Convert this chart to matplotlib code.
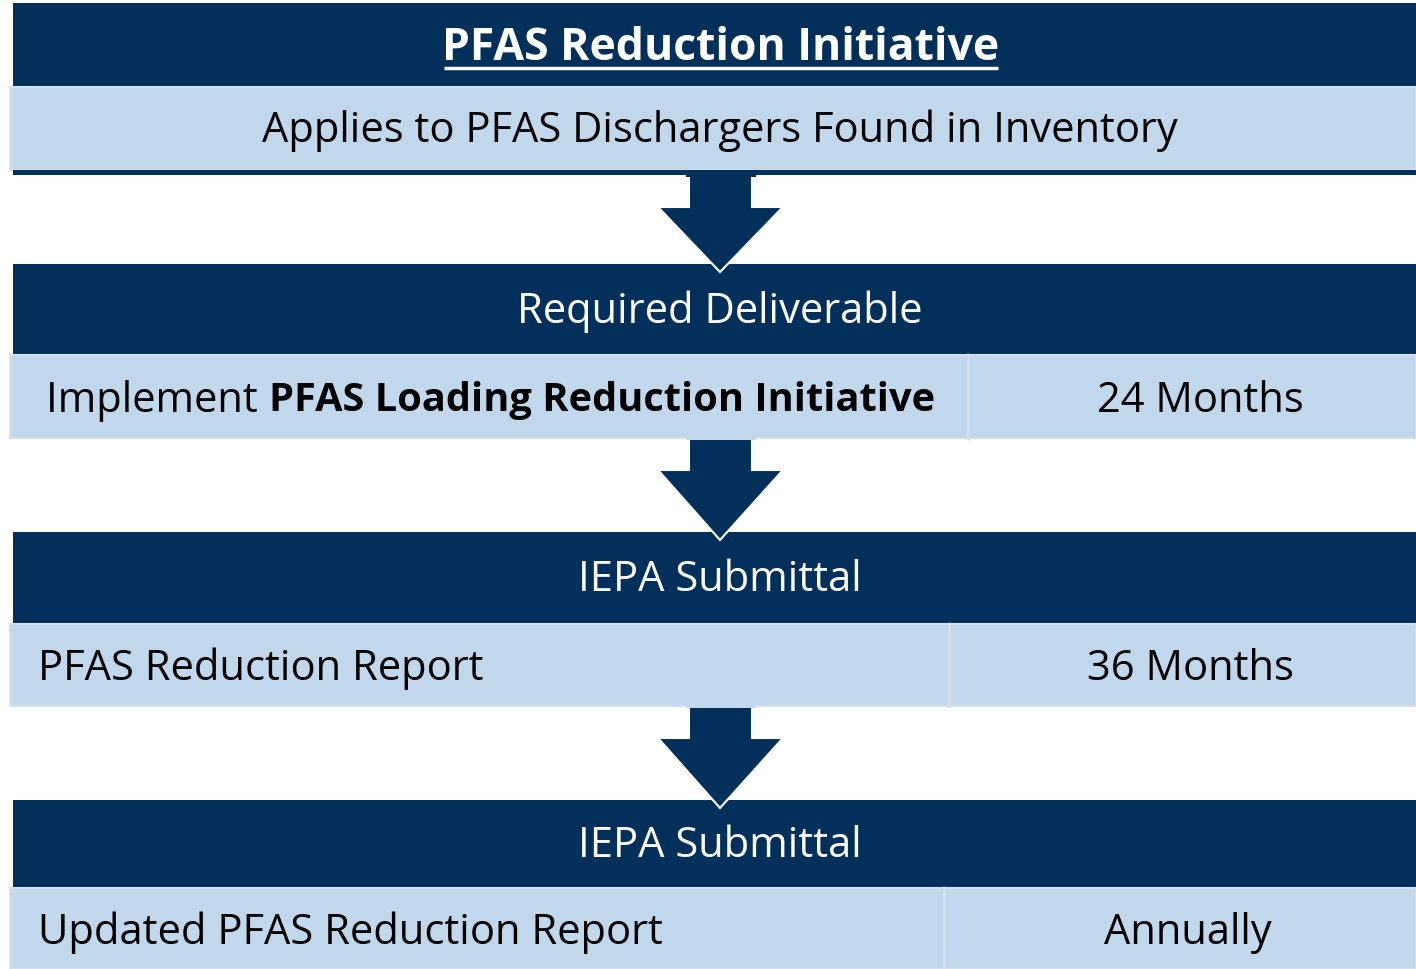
import matplotlib
matplotlib.use("Agg")
import matplotlib.pyplot as plt
from matplotlib.patches import Rectangle, Polygon

plt.rcParams['font.family'] = ['Open Sans', 'DejaVu Sans']

DARK = '#02305a'
LIGHT = '#c1d8ec'

# block texts
titles = ['PFAS Reduction Initiative', 'Required Deliverable', 'IEPA Submittal', 'IEPA Submittal']
left_texts = ['Applies to PFAS Dischargers Found in Inventory', 'Implement ', 'PFAS Reduction Report',
              'Updated PFAS Reduction Report']
bold_parts = ['', 'PFAS Loading Reduction Initiative', '', '']
right_texts = ['', '24 Months', '36 Months', 'Annually']

# layout in pixel coordinates (top, header bottom, row bottom, split x)
header_top = [3, 264, 532, 800]
header_bot = [87, 355, 624, 888]
row_bot = [170, 438, 706, 969]
split_x = [None, 968, 949, 944]
left_x = [None, 46, 38, 38]
right_cx = [None, 1200, 1190, 1188]

W, H = 1416, 969
fig = plt.figure(figsize=(W / 100, H / 100), dpi=100)
ax = fig.add_axes([0, 0, 1, 1])
ax.set_xlim(0, W)
ax.set_ylim(H, 0)
ax.axis('off')

fs = 30
for i in range(4):
    ax.add_patch(Rectangle((13, header_top[i]), W - 13, header_bot[i] - header_top[i],
                           facecolor=DARK, edgecolor='none', zorder=1))
    ax.add_patch(Rectangle((10, header_bot[i]), W - 10, row_bot[i] - header_bot[i],
                           facecolor=LIGHT, edgecolor='#d3dfec', lw=1.5, zorder=2))
    hy = (header_top[i] + header_bot[i]) / 2
    ry = (header_bot[i] + row_bot[i]) / 2 + 4
    if i == 0:
        ax.add_patch(Rectangle((13, 170), W - 13, 5, facecolor=DARK, edgecolor='none', zorder=3))
        t = ax.text(721, hy + 3, titles[i], color='white', fontsize=32, fontweight='bold',
                    ha='center', va='center', zorder=5)
        ax.text(720, ry - 2, left_texts[i], color='black', fontsize=fs, ha='center', va='center', zorder=5)
    else:
        ax.text(720, hy + 2, titles[i], color='white', fontsize=fs, ha='center', va='center', zorder=5)
        ax.plot([split_x[i], split_x[i]], [header_bot[i], row_bot[i]], color='#d3dfec', lw=2.5, zorder=3)
        t1 = ax.text(left_x[i], ry, left_texts[i], color='black', fontsize=fs, ha='left', va='center', zorder=5)
        if bold_parts[i]:
            fig.canvas.draw()
            bb = t1.get_window_extent(renderer=fig.canvas.get_renderer())
            x1 = ax.transData.inverted().transform((bb.x1, bb.y0))[0]
            ax.text(x1, ry, bold_parts[i], color='black', fontsize=28.6, fontweight='bold',
                    ha='left', va='center', zorder=5)
        ax.text(right_cx[i], ry, right_texts[i], color='black', fontsize=fs, ha='center', va='center', zorder=5)

# underline the title
fig.canvas.draw()
bb = t.get_window_extent(renderer=fig.canvas.get_renderer())
inv = ax.transData.inverted()
(ux0, _), (ux1, _) = inv.transform((bb.x0, 0)), inv.transform((bb.x1, 0))
ax.plot([ux0 + 2, ux1 - 2], [68, 68], color='white', lw=2.5, zorder=6, solid_capstyle='butt')

# arrows between blocks
arrow_top = [175, 438, 706]
for i in range(3):
    top = arrow_top[i]
    tip = header_top[i + 1] + 8
    neck = top + 32
    pts = [(689, top), (752, top), (752, neck), (783, neck), (720, tip), (658, neck), (689, neck)]
    ax.add_patch(Polygon(pts, closed=True, facecolor=DARK, edgecolor='white', lw=1.5, zorder=4))
    ax.add_patch(Rectangle((686, top - 1), 70, 3, facecolor=DARK if i == 0 else LIGHT,
                           edgecolor='none', zorder=4.5))

fig.savefig('out.png', dpi=100)
